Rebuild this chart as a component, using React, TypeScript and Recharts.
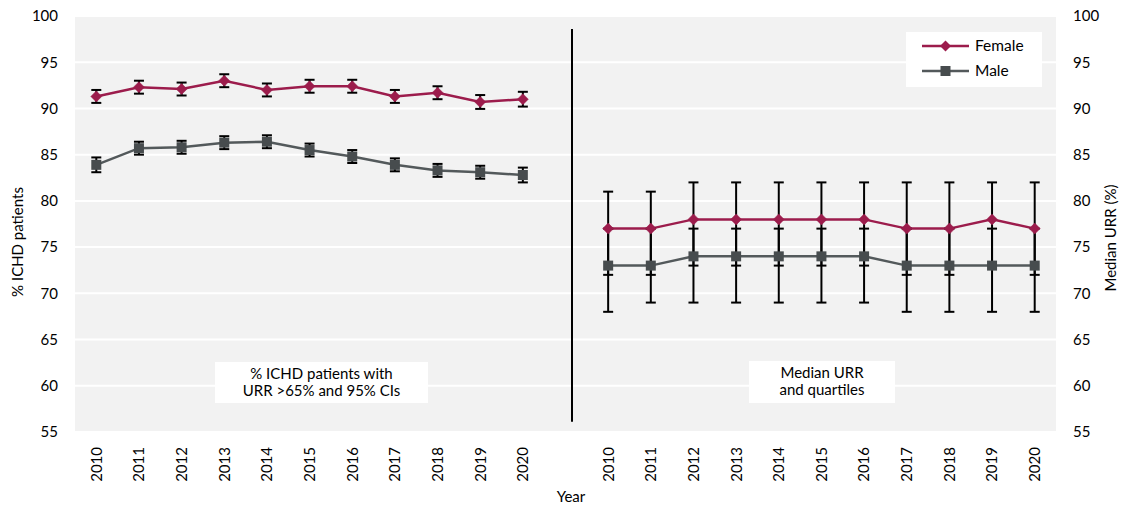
import React from 'react';
import { LineChart, Line, XAxis, YAxis, CartesianGrid, ErrorBar, ReferenceLine } from 'recharts';

const years = ['2010', '2011', '2012', '2013', '2014', '2015', '2016', '2017', '2018', '2019', '2020'];
const yTicks = [55, 60, 65, 70, 75, 80, 85, 90, 95, 100];

// Left panel: % ICHD patients with URR >65% and 95% CI half-widths
const femalePct = [91.3, 92.3, 92.1, 93.0, 92.0, 92.4, 92.4, 91.3, 91.7, 90.7, 91.0];
const femalePctCI = [0.7, 0.7, 0.7, 0.7, 0.7, 0.7, 0.7, 0.7, 0.7, 0.75, 0.8];
const malePct = [83.9, 85.7, 85.8, 86.3, 86.4, 85.5, 84.8, 83.9, 83.3, 83.1, 82.8];
const malePctCI = [0.8, 0.7, 0.7, 0.7, 0.7, 0.7, 0.7, 0.7, 0.7, 0.7, 0.8];

// Right panel: median URR and quartiles
const femaleMedian = [77, 77, 78, 78, 78, 78, 78, 77, 77, 78, 77];
const femaleQ1 = [72, 72, 73, 73, 73, 73, 73, 72, 72, 73, 72];
const femaleQ3 = [81, 81, 82, 82, 82, 82, 82, 82, 82, 82, 82];
const maleMedian = [73, 73, 74, 74, 74, 74, 74, 73, 73, 73, 73];
const maleQ1 = [68, 69, 69, 69, 69, 69, 69, 68, 68, 68, 68];
const maleQ3 = [77, 77, 77, 77, 77, 77, 77, 77, 77, 77, 77];

const FEMALE = '#9C1C4C';
const MALE_LINE = '#53595B';
const MALE_DOT = '#474C4E';
const FONT = 'Lato, "Open Sans", sans-serif';

const data: any[] = [
  ...years.map((y, i) => ({
    key: 'L' + y,
    female: femalePct[i],
    fErr: [femalePctCI[i], femalePctCI[i]],
    male: malePct[i],
    mErr: [malePctCI[i], malePctCI[i]],
  })),
  { key: 'gap', female: null, fErr: null, male: null, mErr: null },
  ...years.map((y, i) => ({
    key: 'R' + y,
    female: femaleMedian[i],
    fErr: [femaleMedian[i] - femaleQ1[i], femaleQ3[i] - femaleMedian[i]],
    male: maleMedian[i],
    mErr: [maleMedian[i] - maleQ1[i], maleQ3[i] - maleMedian[i]],
  })),
];

const XTick = (props: any) => {
  const { x, y, payload } = props;
  const v: string = payload.value;
  const label = v === 'gap' ? '' : v.slice(1);
  const ay = y + 15;
  return (
    <text
      x={x}
      y={ay}
      transform={`rotate(-90, ${x}, ${ay})`}
      textAnchor="end"
      dy="0.36em"
      fontSize={15}
      fontFamily={FONT}
      fill="#000"
    >
      {label}
    </text>
  );
};

const Diamond = (props: any) => {
  const { cx, cy, index } = props;
  if (cx == null || cy == null || Number.isNaN(cy)) return <g key={`fd${index}`} />;
  const s = 5.5;
  return (
    <path
      key={`fd${index}`}
      d={`M${cx},${cy - s} L${cx + s},${cy} L${cx},${cy + s} L${cx - s},${cy} Z`}
      fill={FEMALE}
      stroke={FEMALE}
      strokeWidth={0.5}
    />
  );
};

const Square = (props: any) => {
  const { cx, cy, index } = props;
  if (cx == null || cy == null || Number.isNaN(cy)) return <g key={`ms${index}`} />;
  const s = 5;
  return <rect key={`ms${index}`} x={cx - s} y={cy - s} width={2 * s} height={2 * s} fill={MALE_DOT} />;
};

const SepLine = (props: any) => {
  const { x1, y1, x2, y2 } = props;
  return <line x1={x1 + 6.5} y1={y1} x2={x2 + 6.5} y2={y2} stroke="#000" strokeWidth={2} />;
};

export default function App() {
  return (
    <div style={{ position: 'relative', width: 1123, height: 506, background: '#fff' }}>
      <style>{'body{margin:0;}'}</style>
      <LineChart width={1123} height={506} data={data} margin={{ top: 16, right: 0, bottom: 0, left: 0 }}>
        <CartesianGrid yAxisId="left" fill="#F2F2F2" stroke="#FFFFFF" strokeWidth={2} vertical={false} />
        <XAxis
          dataKey="key"
          type="category"
          height={74}
          padding={{ left: 21.3, right: 21.3 }}
          axisLine={false}
          tickLine={false}
          tickSize={0}
          tickMargin={0}
          interval={0}
          tick={<XTick />}
        />
        <YAxis
          yAxisId="left"
          orientation="left"
          width={75}
          domain={[55, 100]}
          ticks={yTicks}
          axisLine={false}
          tickLine={false}
          tickSize={0}
          tickMargin={17}
          tick={{ fontSize: 15, fontFamily: FONT, fill: '#000' }}
        />
        <YAxis
          yAxisId="right"
          orientation="right"
          width={67}
          domain={[55, 100]}
          ticks={yTicks}
          axisLine={false}
          tickLine={false}
          tickSize={0}
          tickMargin={17}
          tick={{ fontSize: 15, fontFamily: FONT, fill: '#000' }}
        />
        <ReferenceLine
          yAxisId="left"
          segment={[{ x: 'gap', y: 98.6 }, { x: 'gap', y: 56.1 }]}
          stroke="#000"
          strokeWidth={2}
          shape={<SepLine />}
        />
        <Line
          yAxisId="left"
          dataKey="female"
          stroke={FEMALE}
          strokeWidth={2.5}
          dot={<Diamond />}
          activeDot={false}
          isAnimationActive={false}
        >
          <ErrorBar dataKey="fErr" width={5} stroke="#000" strokeWidth={2} direction="y" />
        </Line>
        <Line
          yAxisId="right"
          dataKey="male"
          stroke={MALE_LINE}
          strokeWidth={2.5}
          dot={<Square />}
          activeDot={false}
          isAnimationActive={false}
        >
          <ErrorBar dataKey="mErr" width={5} stroke="#000" strokeWidth={2} direction="y" />
        </Line>
      </LineChart>
      <svg
        width={1123}
        height={506}
        style={{ position: 'absolute', left: 0, top: 0, pointerEvents: 'none' }}
        fontFamily={FONT}
      >
        <text x={18} y={242} transform="rotate(-90, 18, 242)" textAnchor="middle" dy="0.35em" fontSize={15}>
          % ICHD patients
        </text>
        <text x={1111} y={238} transform="rotate(-90, 1111, 238)" textAnchor="middle" dy="0.35em" fontSize={15}>
          Median URR (%)
        </text>
        <text x={571} y={497} textAnchor="middle" dy="0.35em" fontSize={15}>
          Year
        </text>
        <rect x={215} y={362} width={213} height={41} fill="#fff" />
        <text x={321.5} y={374} textAnchor="middle" dy="0.35em" fontSize={15}>
          % ICHD patients with
        </text>
        <text x={321.5} y={391} textAnchor="middle" dy="0.35em" fontSize={15}>
          URR &gt;65% and 95% CIs
        </text>
        <rect x={749} y={361} width={146} height={42} fill="#fff" />
        <text x={822} y={373} textAnchor="middle" dy="0.35em" fontSize={15}>
          Median URR
        </text>
        <text x={822} y={390} textAnchor="middle" dy="0.35em" fontSize={15}>
          and quartiles
        </text>
        <rect x={906} y={32} width={136} height={55} fill="#fff" />
        <line x1={922} y1={46} x2={969} y2={46} stroke={FEMALE} strokeWidth={2.5} />
        <path d="M945.5,40.5 L951,46 L945.5,51.5 L940,46 Z" fill={FEMALE} />
        <text x={975} y={46} dy="0.35em" fontSize={15.5}>
          Female
        </text>
        <line x1={922} y1={71} x2={969} y2={71} stroke={MALE_LINE} strokeWidth={2.5} />
        <rect x={940.5} y={66} width={10} height={10} fill={MALE_DOT} />
        <text x={975} y={71} dy="0.35em" fontSize={15.5}>
          Male
        </text>
      </svg>
    </div>
  );
}
